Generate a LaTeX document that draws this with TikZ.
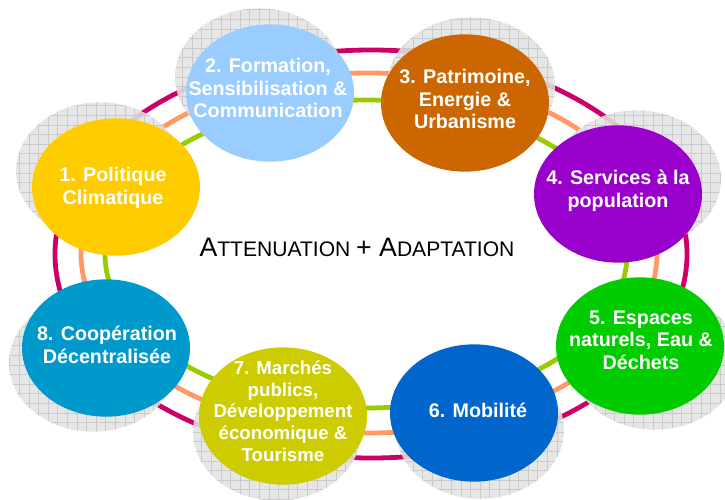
\documentclass[tikz,border=0pt]{standalone}
\usepackage{fontspec}
\setmainfont{Liberation Sans}
\usetikzlibrary{shapes.geometric}
\definecolor{ringred}{HTML}{CC0066}
\definecolor{ringorange}{HTML}{FF9966}
\definecolor{ringgreen}{HTML}{99CC00}
\definecolor{cA}{HTML}{FFCC00}
\definecolor{cB}{HTML}{99CCFF}
\definecolor{cC}{HTML}{CC6600}
\definecolor{cD}{HTML}{9900CC}
\definecolor{cE}{HTML}{00CC00}
\definecolor{cF}{HTML}{0066CC}
\definecolor{cG}{HTML}{CCCC00}
\definecolor{cH}{HTML}{0099CC}
\definecolor{shfill}{HTML}{E2E2E2}
\definecolor{shline}{HTML}{CACACA}
\newcommand\shadowell[2]{%
  \begin{scope}
    \clip (#1,#2) ellipse [x radius=63pt, y radius=51.5pt];
    \fill[shfill, fill opacity=0.88] (#1-90,#2-80) rectangle (#1+90,#2+80);
    \draw[shline, line width=0.4pt, step=7.2pt] (#1-90,#2-80) grid (#1+90,#2+80);
  \end{scope}}
\begin{document}
\begin{tikzpicture}[x=0.75pt,y=-0.75pt,
  ring/.style={line width=3.6pt},
  bubble/.style={ellipse, minimum width=126pt, minimum height=103pt, inner sep=0pt, draw=none},
  txt/.style={text=white, font=\bfseries\fontsize{14.8}{16.9}\selectfont, align=center, inner sep=0pt},
  txtsmall/.style={txt, font=\bfseries\fontsize{14}{16.3}\selectfont},
]
\useasboundingbox (0,0) rectangle (725,500);
% rings
\draw[ring, ringred] (371,254) ellipse [x radius=237pt, y radius=153pt];
\draw[ring, ringorange] (369,253) ellipse [x radius=216pt, y radius=135pt];
\draw[ring, ringgreen] (366,254) ellipse [x radius=195.75pt, y radius=115.5pt];
% shadows
\shadowell{100}{171}
\shadowell{259}{77}
\shadowell{471}{86}
\shadowell{637}{179}
\shadowell{655}{361}
\shadowell{480}{430}
\shadowell{277}{432}
\shadowell{93}{363}
% bubbles
\node[bubble, fill=cA] (n1) at (116,187) {};
\node[bubble, fill=cB] (n2) at (270,93) {};
\node[bubble, fill=cC] (n3) at (465,103) {};
\node[bubble, fill=cD] (n4) at (618,194) {};
\node[bubble, fill=cE] (n5) at (640,346) {};
\node[bubble, fill=cF] (n6) at (474,413) {};
\node[bubble, fill=cG] (n7) at (283,416) {};
\node[bubble, fill=cH] (n8) at (106,348) {};
% texts
\node[txt] (t1) at (113,188) {1. Politique\\Climatique};
\node[txt] (t2) at (268,88) {2. Formation,\\Sensibilisation \&\\Communication};
\node[txt] (t3) at (465,99) {3. Patrimoine,\\Energie \&\\Urbanisme};
\node[txt] (t4) at (618,191) {4. Services à la\\population};
\node[txt] (t5) at (641,340) {5. Espaces\\naturels, Eau \&\\Déchets};
\node[txt] (t6) at (478,410) {6. Mobilité};
\node[txtsmall] (t7) at (283,411) {7. Marchés\\publics,\\Développement\\économique \&\\Tourisme};
\node[txt] (t8) at (107,345) {8. Coopération\\Décentralisée};
% centre
\node[inner sep=0pt] (centre) at (357,247) {\fontsize{20}{24}\selectfont A\fontsize{15.8}{20}\selectfont TTENUATION \fontsize{20}{24}\selectfont + A\fontsize{15.8}{20}\selectfont DAPTATION};
\end{tikzpicture}
\end{document}
